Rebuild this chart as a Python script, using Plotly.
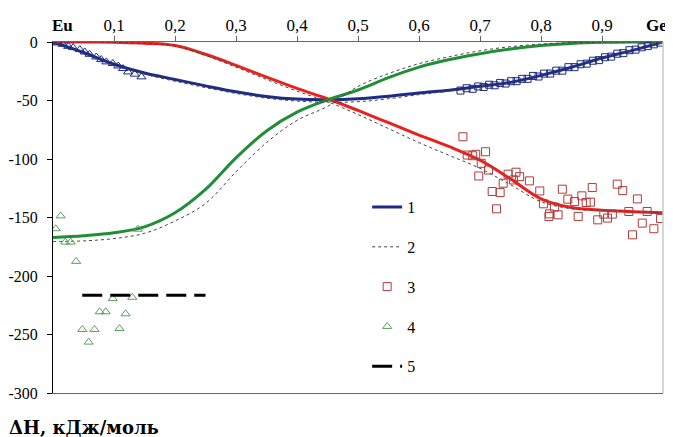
import plotly.graph_objects as go

# ---- data ----
x_grid = [0, 0.05, 0.1, 0.15, 0.2, 0.25, 0.3, 0.35, 0.4, 0.45, 0.5,
          0.55, 0.6, 0.65, 0.7, 0.75, 0.8, 0.85, 0.9, 0.95, 1.0]

blue_solid = [0, -9, -19, -26.5, -32, -37.5, -42.6, -46.5, -48.8, -49.3, -48.5,
              -46.3, -43.5, -41.2, -37.8, -34.5, -28.5, -21.6, -13.7, -7.2, 0]
blue_dot = [0, -9.2, -19.5, -27.5, -33.5, -39, -44, -48, -50.5, -51.5, -51,
            -48.5, -45, -42, -38.5, -35, -29, -22, -14, -7.2, 0]

red_solid = [0, 0, -0.3, -1, -3, -10.5, -20, -30, -39.7, -48.5, -58.5,
             -69, -79.5, -89.5, -101, -117, -134, -141.5, -143.8, -145, -146]
red_dot = [0, 0, -0.3, -1.2, -3.5, -11.5, -21.5, -32, -42, -51, -62,
           -74, -86, -97, -108, -122, -136.5, -142.5, -144, -145, -146]

green_solid = [-167, -165.5, -163, -158, -146, -126, -99, -76, -60, -49.5, -41,
               -30.5, -21.5, -15, -10, -6, -3, -1.2, -0.3, 0, 0]
green_dot = [-170.5, -170, -168, -163.5, -153, -138, -111, -86, -67, -55, -38,
             -27, -18.5, -12.5, -7.5, -4, -1.8, -0.6, -0.1, 0, 0]

blue_tri_x = [0, 0.008, 0.016, 0.025, 0.033, 0.044, 0.052, 0.06, 0.071, 0.079,
              0.0875, 0.098, 0.107, 0.115, 0.123, 0.134, 0.145]
blue_tri_y = [0, -0.8, -2, -3.7, -4.8, -6.5, -8.5, -10.5, -12.8, -15,
              -17, -18.4, -20.5, -22.7, -25.6, -27.5, -29.8]

blue_sq_x = [0.668, 0.678, 0.688, 0.697, 0.706, 0.715, 0.724, 0.733, 0.742, 0.751,
             0.760, 0.769, 0.778, 0.787, 0.796, 0.805, 0.815, 0.825, 0.835, 0.845,
             0.855, 0.865, 0.875, 0.885, 0.895, 0.905, 0.915, 0.925, 0.935, 0.945,
             0.955, 0.965, 0.975, 0.985, 0.995]
blue_sq_y = [-41.5, -39.5, -40.0, -38.0, -38.5, -36.5, -37.0, -35.0, -35.5, -33.5,
             -33.5, -31.5, -31.5, -29.0, -29.5, -27.0, -27.0, -24.5, -24.5, -21.5,
             -21.5, -19.0, -18.5, -16.0, -15.5, -13.0, -12.5, -10.0, -9.5, -7.0,
             -6.5, -4.5, -3.5, -2.0, -0.5]

red_sq_x = [0.672, 0.679, 0.688, 0.693, 0.709, 0.702, 0.714, 0.698, 0.738, 0.746,
            0.759, 0.765, 0.755, 0.781, 0.720, 0.733, 0.727, 0.798, 0.804, 0.822,
            0.814, 0.813, 0.828, 0.835, 0.844, 0.855, 0.867, 0.874, 0.881, 0.884,
            0.861, 0.893, 0.903, 0.909, 0.917, 0.925, 0.934, 0.944, 0.958, 0.966,
            0.974, 0.985, 0.996, 0.950]
red_sq_y = [-81.0, -96.6, -97.2, -96.0, -93.8, -103.7, -109.4, -114.5, -120.7, -113.0,
            -111.3, -115.1, -117.9, -118.7, -127.8, -128.7, -142.6, -127.3, -138.3, -141.1,
            -146.9, -149.1, -147.7, -125.8, -134.3, -136.4, -131.5, -137.2, -136.9, -124.4,
            -149.1, -152.0, -147.1, -150.5, -147.1, -121.5, -127.0, -144.9, -134.1, -154.8,
            -144.9, -159.6, -150.9, -164.8]

green_tri_x = [0.0126, 0.0044, 0.020, 0.029, 0.038, 0.139, 0.098, 0.130, 0.0766, 0.0864,
               0.119, 0.048, 0.068, 0.109, 0.0585]
green_tri_y = [-148.6, -159.6, -171, -171, -187.5, -160, -219.3, -218.2, -230.6, -230.6,
               -232.3, -245.7, -245.7, -244.9, -256.5]

level_x = [0.048, 0.25]
level_y = [-216.5, -216.5]

x_tick_vals = [0.1, 0.2, 0.3, 0.4, 0.5, 0.6, 0.7, 0.8, 0.9]
x_tick_text = ["0,1", "0,2", "0,3", "0,4", "0,5", "0,6", "0,7", "0,8", "0,9"]
y_tick_vals = [0, -50, -100, -150, -200, -250, -300]
y_tick_text = ["0", "-50", "-100", "-150", "-200", "-250", "-300"]

# ---- style ----
NAVY = "#1f2c86"
RED = "#e8231f"
GREEN = "#1f8f35"
DOT = "#444444"
SQ_RED = "#b23a3a"
TRI_GREEN = "#5e9e5e"
FONT = "Liberation Serif"

fig = go.Figure()

def curve(y, color, name, show, rank):
    fig.add_trace(go.Scatter(x=x_grid, y=y, mode="lines",
                             line=dict(color=color, width=3, shape="spline", smoothing=1.0),
                             name=name, showlegend=show, legendgroup=name, legendrank=rank))

def dotted(y, show):
    fig.add_trace(go.Scatter(x=x_grid, y=y, mode="lines",
                             line=dict(color=DOT, width=1, dash="dot", shape="spline", smoothing=1.0),
                             name="2", showlegend=show, legendgroup="2", legendrank=2))

curve(blue_solid, NAVY, "1", True, 1)
curve(red_solid, RED, "r", False, 10)
curve(green_solid, GREEN, "g", False, 11)
dotted(blue_dot, True)
dotted(red_dot, False)
dotted(green_dot, False)

fig.add_trace(go.Scatter(x=blue_tri_x, y=blue_tri_y, mode="markers",
                         marker=dict(symbol="triangle-up-open", size=8, color=NAVY, line=dict(width=1)),
                         showlegend=False))
fig.add_trace(go.Scatter(x=blue_sq_x, y=blue_sq_y, mode="markers",
                         marker=dict(symbol="square-open", size=7, color=NAVY, line=dict(width=1)),
                         showlegend=False))
fig.add_trace(go.Scatter(x=red_sq_x, y=red_sq_y, mode="markers", name="3",
                         marker=dict(symbol="square-open", size=8, color=SQ_RED, line=dict(width=1)),
                         legendgroup="3", legendrank=3))
fig.add_trace(go.Scatter(x=green_tri_x, y=green_tri_y, mode="markers", name="4",
                         marker=dict(symbol="triangle-up-open", size=8, color=TRI_GREEN, line=dict(width=1)),
                         legendgroup="4", legendrank=4))
fig.add_trace(go.Scatter(x=level_x, y=level_y, mode="lines", name="5",
                         line=dict(color="black", width=3, dash="20px,8px"),
                         legendgroup="5", legendrank=5))

# the page body has an 8px margin, so the figure is 8px smaller and margins shifted
fig.update_layout(
    width=665, height=429,
    margin=dict(l=45, r=10, t=34, b=44, autoexpand=False),
    paper_bgcolor="white", plot_bgcolor="white",
    font=dict(family=FONT, size=17, color="black"),
    showlegend=True,
    legend=dict(x=0.515, y=0.578, xanchor="left", yanchor="top",
                font=dict(family=FONT, size=16), tracegroupgap=16,
                bgcolor="rgba(0,0,0,0)"),
    xaxis=dict(range=[0, 1], side="top", tickvals=x_tick_vals, ticktext=x_tick_text,
               tickfont=dict(family=FONT, size=17),
               ticks="outside", ticklen=5, tickcolor="#666", showline=True, linecolor="#666",
               mirror=True, showgrid=False, zeroline=False, fixedrange=True, automargin=False,
               ticklabelstandoff=-2),
    yaxis=dict(range=[-300, 0], tickvals=y_tick_vals, ticktext=y_tick_text,
               tickfont=dict(family=FONT, size=16),
               ticks="outside", ticklen=5,
               tickcolor="black", showline=True, linecolor="black", linewidth=1,
               showgrid=False, zeroline=False, ticklabelstandoff=6, fixedrange=True,
               automargin=False),
    shapes=[dict(type="line", xref="paper", yref="paper", x0=1, x1=1, y0=0, y1=1,
                 line=dict(color="#c8c8c8", width=1.5))],
    annotations=[
        dict(text="<b>Eu</b>", xref="paper", yref="paper", x=0, y=1.0, yshift=17, xshift=-3,
             xanchor="left", yanchor="middle", showarrow=False, font=dict(family=FONT, size=17)),
        dict(text="<b>Ge</b>", xref="paper", yref="paper", x=1.0, y=1.0, yshift=17, xshift=6,
             xanchor="right", yanchor="middle", showarrow=False, font=dict(family=FONT, size=17)),
        dict(text="<b>ΔH, кДж/моль</b>", xref="paper", yref="paper", x=0, y=0, yshift=-34, xshift=-46,
             xanchor="left", yanchor="middle", showarrow=False,
             font=dict(family="DejaVu Serif", size=18)),
    ],
)

fig.write_html("out.html")
